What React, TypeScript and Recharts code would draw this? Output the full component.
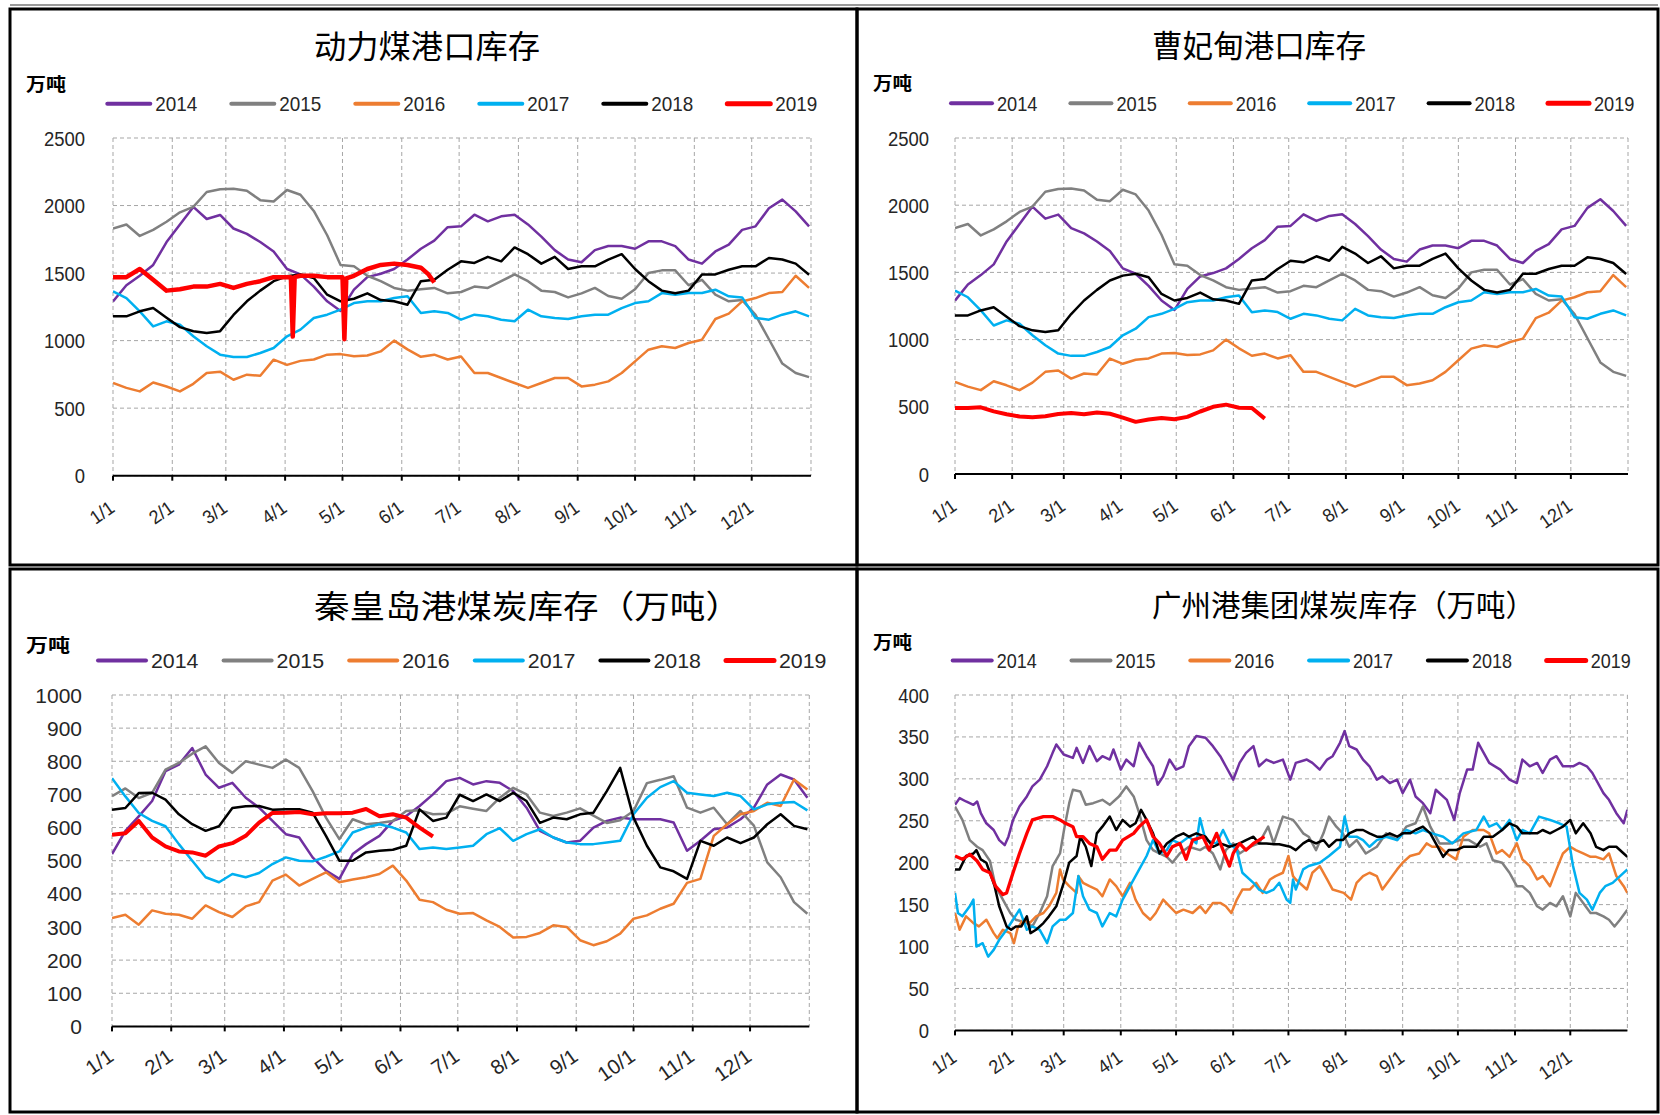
import React from 'react';
import { LineChart, Line, XAxis, YAxis, CartesianGrid } from 'recharts';

// ---------- x categories (day of year) ----------
const DAYS = [0, 7, 14, 21, 28, 35, 42, 49, 56, 63, 70, 77, 84, 91, 98, 105, 112, 119, 126, 133, 140, 147, 154, 161, 168, 175, 182, 189, 196, 203, 210, 217, 224, 231, 238, 245, 252, 259, 266, 273, 280, 287, 294, 301, 308, 315, 322, 329, 336, 343, 350, 357, 364];
const DAYS_2019 = [0, 7, 14, 21, 28, 35, 42, 49, 56, 63, 70, 77, 84, 91, 98, 105, 112, 119, 126, 133, 140, 147, 154, 161, 168];
const DAYS_DL_2019 = [0, 7, 14, 21, 28, 35, 42, 49, 56, 63, 70, 77, 84, 91, 93, 94, 95, 98, 105, 112, 119, 120, 121, 122, 126, 133, 140, 147, 154, 161, 165, 168];
const MONTH_DAYS = [0, 31, 59, 90, 120, 151, 181, 212, 243, 273, 304, 334];
const MONTH_LABELS = ['1/1', '2/1', '3/1', '4/1', '5/1', '6/1', '7/1', '8/1', '9/1', '10/1', '11/1', '12/1'];
const YEARS = ['2014', '2015', '2016', '2017', '2018', '2019'];

// ---------- 动力煤港口库存 (2014-2018 curves also shown in 曹妃甸 chart) ----------
const DL_2014 = [1290, 1410, 1480, 1560, 1730, 1860, 1990, 1900, 1930, 1830, 1790, 1730, 1660, 1530, 1490, 1400, 1291, 1220, 1377, 1470, 1495, 1530, 1600, 1680,
  1740, 1840, 1846, 1932, 1883, 1920, 1932, 1860, 1770, 1670, 1600, 1580, 1670, 1700, 1700, 1680, 1735, 1735, 1700, 1600, 1570, 1660, 1710, 1820, 1846, 1980, 2044, 1957, 1846];
const DL_2015 = [1830, 1860, 1775, 1820, 1880, 1950, 1990, 2100, 2120, 2125, 2110, 2040, 2030, 2115, 2080, 1960, 1780, 1560, 1550, 1480, 1440, 1390, 1370, 1380,
  1390, 1350, 1360, 1400, 1390, 1440, 1490, 1440, 1370, 1360, 1320, 1350, 1390, 1330, 1310, 1380, 1500, 1520, 1520, 1410, 1450, 1340, 1291, 1300, 1190, 1010, 830, 760, 730];
const DL_2016 = [686, 650, 624, 690, 660, 624, 680, 760, 770, 710, 748, 740, 859, 820, 850, 860, 896, 900, 885, 890, 920, 1000, 935, 880,
  896, 860, 883, 760, 760, 723, 686, 650, 686, 723, 723, 661, 674, 698, 760, 846, 933, 958, 945, 982, 1007, 1160, 1200, 1290, 1315, 1352, 1360, 1480, 1390];
const DL_2017 = [1365, 1315, 1217, 1105, 1143, 1118, 1032, 958, 896, 879, 879, 908, 945, 1032, 1081, 1167, 1192, 1229, 1278, 1291, 1291, 1315, 1328, 1204,
  1217, 1205, 1155, 1192, 1180, 1155, 1143, 1229, 1180, 1167, 1160, 1180, 1192, 1192, 1241, 1278, 1291, 1352, 1340, 1352, 1352, 1377, 1328, 1320, 1167, 1155, 1192, 1217, 1180];
const DL_2018 = [1180, 1180, 1217, 1241, 1170, 1100, 1069, 1056, 1070, 1190, 1291, 1370, 1440, 1476, 1490, 1464, 1340, 1291, 1310, 1350, 1300, 1291, 1266, 1440,
  1451, 1525, 1587, 1575, 1620, 1587, 1690, 1640, 1570, 1620, 1530, 1550, 1550, 1600, 1640, 1530, 1440, 1370, 1350, 1370, 1490, 1490, 1525, 1550, 1550, 1612, 1600, 1570, 1488];
const DL_2019 = [1470, 1470, 1530, 1450, 1370, 1380, 1400, 1400, 1420, 1390, 1420, 1440, 1470, 1470, 1470, 1030, 1470, 1480, 1480, 1470, 1470, 1470, 1010, 1460,
  1480, 1530, 1560, 1570, 1560, 1540, 1490, 1430];

// ---------- 曹妃甸港口库存 2019 ----------
const CFD_2019 = [491, 491, 496, 466, 445, 428, 422, 430, 446, 453, 445, 458, 448, 420, 388, 405, 417, 407, 425, 465, 500, 516, 493, 491, 412];

// ---------- 秦皇岛港煤炭库存 ----------
const QHD_2014 = [520, 590, 634, 680, 770, 790, 840, 760, 720, 735, 690, 660, 620, 580, 570, 510, 470, 445, 520, 550, 575, 620, 635, 665, 700, 740, 750,
  730, 740, 735, 710, 660, 590, 570, 555, 560, 600, 620, 630, 625, 625, 625, 615, 530, 560, 595, 600, 625, 660, 730, 760, 745, 690];
const QHD_2015 = [695, 718, 689, 705, 775, 795, 823, 845, 795, 765, 800, 790, 780, 805, 780, 710, 630, 565, 625, 610, 614, 620, 650, 652, 640, 642, 664,
  657, 650, 690, 720, 700, 645, 635, 645, 658, 636, 614, 622, 650, 734, 744, 755, 660, 645, 660, 610, 650, 606, 495, 450, 375, 340];
const QHD_2016 = [327, 337, 307, 350, 340, 337, 325, 365, 345, 330, 362, 375, 440, 458, 425, 445, 465, 435, 443, 450, 460, 485, 440, 382, 375, 352, 340,
  342, 320, 300, 268, 270, 282, 305, 300, 260, 245, 257, 280, 325, 335, 355, 370, 433, 445, 575, 610, 640, 650, 675, 665, 745, 715];
const QHD_2017 = [749, 694, 644, 620, 604, 550, 500, 450, 435, 460, 450, 463, 490, 510, 500, 498, 512, 528, 585, 600, 610, 600, 585, 535, 540, 535, 540,
  545, 580, 598, 560, 580, 595, 570, 555, 550, 550, 555, 560, 640, 690, 722, 740, 705, 700, 695, 705, 695, 655, 670, 675, 677, 652];
const QHD_2018 = [654, 659, 704, 705, 684, 640, 610, 590, 604, 659, 664, 665, 654, 655, 655, 645, 575, 500, 500, 525, 530, 533, 545, 655, 620, 630, 699,
  680, 700, 680, 705, 680, 614, 630, 625, 640, 645, 710, 780, 630, 545, 480, 468, 445, 560, 545, 570, 553, 570, 610, 640, 605, 595];
const QHD_2019 = [578, 583, 620, 570, 543, 528, 525, 515, 543, 553, 575, 615, 644, 645, 647, 640, 643, 643, 645, 656, 634, 640, 630, 600, 573];

// ---------- 广州港集团煤炭库存 ([day, value] readings) ----------
const GZ_2014: [number, number][] = [[0, 269], [2.5, 277], [6, 273], [10, 269], [12, 273], [14, 259], [17, 247], [21, 239], [24, 227], [27, 221], [29, 231], [31.5, 251], [35, 267], [39, 279], [42, 291], [46, 299], [50, 315], [53, 331], [55, 341], [59, 329], [64, 325], [66, 337], [69.5, 319], [73, 339], [77, 321], [80, 327], [84, 323], [86, 335], [90, 311], [93, 323], [97, 315], [100, 343], [104, 327], [107.5, 315], [110, 293], [113, 303], [116.5, 323], [120, 311], [124, 315], [127, 339], [131, 351], [136, 349], [140, 339], [144, 327], [147, 315], [151, 299], [154.5, 319], [158, 331], [162, 339], [165, 315], [169, 323], [173, 319], [178, 323], [182, 299],
  [185, 319], [191, 323], [194, 319], [198, 311], [202, 323], [205, 327], [209, 343], [211.5, 357], [214, 339], [218, 335], [221.5, 323], [225, 315], [229, 299], [232, 303], [236, 295], [240, 299], [243, 283], [247, 299], [250, 279], [254, 271], [258, 259], [261, 287], [267, 275], [271, 251], [274, 283], [278, 311], [281, 311], [284, 343], [287, 331], [290, 319], [296, 311], [301, 299], [305, 295], [308, 323], [312, 315], [316, 319], [319, 307], [323, 323], [326.5, 327], [330, 315], [335.5, 315], [339, 319], [343, 315], [346, 307], [352, 283], [355, 275], [359, 259], [363, 247], [365, 263]];
const GZ_2015: [number, number][] = [[0, 267], [4, 251], [8, 227], [12, 219], [15, 215], [19, 202], [22, 172], [26, 156], [30, 140], [33, 132], [39, 128], [42, 124], [46, 140], [50, 160], [53, 196], [57, 211], [59.5, 243], [62, 271], [64, 287], [68, 285], [71, 269], [75, 271], [80, 275], [84, 269], [89, 279], [93, 291], [97, 279], [100, 259], [104, 227], [107.5, 215], [111, 211], [115, 207], [118, 200], [122, 211], [127, 219], [133, 215], [136, 219], [140, 211], [144, 192], [147, 215], [151, 223], [154.5, 211], [160, 219], [165, 223], [170, 243], [173, 223], [178, 255], [183.5, 251],
  [185, 247], [189, 235], [192, 231], [196, 215], [200, 235], [203, 255], [207, 243], [210.5, 235], [214, 219], [218, 227], [223, 211], [229, 219], [234, 235], [240, 227], [245, 243], [250, 247], [254, 267], [258, 243], [263, 223], [269, 223], [274, 227], [279, 227], [285, 219], [288.5, 223], [292, 203], [297, 200], [301, 188], [305, 172], [308, 172], [312, 164], [316, 148], [319, 144], [323, 152], [326.5, 148], [330, 160], [334, 136], [337, 164], [341, 152], [345, 140], [348, 140], [352, 136], [355, 132], [358, 124], [361, 132], [365, 144]];
const GZ_2016: [number, number][] = [[0, 140], [2.5, 120], [6, 136], [10, 128], [13, 124], [17, 132], [21, 116], [23, 110], [26, 120], [30, 116], [32, 104], [34, 122], [37, 132], [40.5, 128], [44, 136], [48, 140], [51, 148], [55, 164], [57, 192], [58.6, 180], [62, 172], [66, 164], [67, 184], [69.5, 176], [73, 172], [77, 168], [80, 160], [84, 180], [87.5, 172], [91, 160], [95, 176], [98, 156], [102, 140], [106, 132], [109, 140], [113, 156], [116.5, 148], [120, 140], [124, 144], [129, 140], [133, 148], [136, 140], [140, 152], [144, 152], [147, 148], [150, 140], [153, 156], [156, 168], [160, 168], [163.5, 176], [167, 164], [171, 180], [174, 184], [178, 188], [181, 208], [183.5, 184],
  [185, 180], [191, 168], [194, 188], [198, 196], [202, 180], [205, 168], [211, 164], [215, 156], [218, 176], [221.5, 184], [225, 188], [229, 184], [232, 168], [236, 180], [240, 192], [243, 200], [247, 208], [252, 211], [256, 223], [259, 219], [263, 219], [267, 211], [272, 204], [276, 231], [281, 239], [287, 239], [290, 235], [294, 211], [297, 215], [301, 207], [305, 223], [308, 204], [312, 196], [316, 180], [319, 184], [323, 172], [326.5, 192], [330, 211], [334, 219], [337, 215], [341, 211], [345, 207], [348, 207], [352, 204], [355, 211], [359, 184], [363, 172], [365, 164]];
const GZ_2017: [number, number][] = [[0, 164], [1.6, 140], [4, 136], [8, 148], [10, 156], [11.6, 100], [15, 104], [18, 88], [21, 96], [24, 108], [28, 120], [31.5, 132], [35, 144], [39, 120], [42, 124], [46, 120], [50, 104], [53, 124], [57, 132], [60, 132], [64, 140], [67, 184], [69.5, 160], [73, 144], [77, 140], [80, 124], [84, 140], [87.5, 136], [91, 156], [95, 172], [100, 192], [104, 208], [107.5, 227], [111, 211], [115, 215], [118, 227], [122, 223], [127, 231], [131, 223], [133, 253], [136, 227], [142, 223], [145.5, 239], [149, 223], [153, 215], [156, 188], [162, 176], [165, 168], [169, 164], [173, 168], [176, 176], [180, 156], [182, 152], [183.5, 180],
  [185, 168], [189, 192], [192, 196], [198, 200], [203, 208], [209, 219], [211.5, 255], [214, 231], [218, 231], [221.5, 227], [225, 219], [229, 227], [234, 231], [240, 227], [245, 239], [250, 235], [254, 239], [259, 235], [265, 231], [270, 223], [276, 235], [283, 239], [287, 255], [290, 243], [294, 247], [297, 239], [301, 251], [305, 227], [308, 239], [312, 235], [317, 255], [323, 251], [328, 247], [332, 243], [335.5, 196], [339, 164], [343, 156], [346, 144], [350, 164], [353, 172], [357, 176], [361, 184], [365, 192]];
const GZ_2018: [number, number][] = [[0, 192], [2.5, 192], [6, 208], [10, 211], [11.6, 215], [14, 204], [17, 200], [19, 188], [21.5, 172], [24, 148], [28, 124], [30.5, 120], [33, 124], [36, 124], [39, 136], [41, 116], [44, 120], [48, 128], [51, 136], [55, 148], [59, 176], [62, 200], [66, 208], [68, 231], [71, 219], [74, 196], [77, 235], [80, 243], [84, 255], [87.5, 239], [91, 251], [95, 243], [98, 247], [101, 263], [104, 251], [107.5, 235], [111, 211], [115, 223], [120, 231], [124, 235], [127, 231], [131, 235], [136, 231], [140, 219], [144, 223], [149, 219], [154.5, 223], [158, 227], [162, 231], [165, 223], [169, 223], [173, 222], [176, 222], [182, 219], [185, 215],
  [189, 223], [192, 227], [196, 223], [200, 227], [203, 219], [207, 227], [210.5, 227], [214, 235], [218, 239], [221.5, 239], [225, 235], [229, 231], [232, 231], [236, 235], [240, 231], [243, 235], [247, 235], [250, 239], [254, 243], [258, 235], [261, 223], [265, 207], [268, 215], [272, 215], [276, 219], [283, 219], [287, 231], [292, 231], [297, 239], [301, 247], [305, 243], [308, 235], [316, 235], [319, 239], [323, 235], [326.5, 239], [330, 243], [334, 251], [337, 235], [341, 247], [345, 235], [348, 219], [352, 215], [355, 219], [359, 219], [363, 211], [365, 207]];
const GZ_2019: [number, number][] = [[0, 208], [4, 204], [8, 210], [12, 202], [15, 192], [19, 188], [22, 172], [26, 162], [28, 164], [31.5, 188], [35, 211], [39, 235], [42, 251], [48, 255], [53, 255], [57, 251], [60, 247], [64, 243], [66, 231], [69.5, 231], [73, 223], [77, 219], [80, 204], [84, 215], [87.5, 215], [91, 227], [97, 235], [100, 243], [104, 251], [107.5, 231], [111, 223], [115, 208], [118, 219], [122, 223], [125.5, 204], [129, 227], [134.6, 231], [138, 215], [142, 235], [145.5, 215], [149, 196], [151, 211], [154.5, 223], [158, 215], [162, 223], [165, 227], [168, 231]];

// ---------- y ticks ----------
const DL_Y_TICKS = [0, 500, 1000, 1500, 2000, 2500];
const QHD_Y_TICKS = [0, 100, 200, 300, 400, 500, 600, 700, 800, 900, 1000];
const GZ_Y_TICKS = [0, 50, 100, 150, 200, 250, 300, 350, 400];

// ---------- styles ----------
const LINE_COLORS = ['#7030A0', '#808080', '#ED7D31', '#00B0F0', '#000000', '#FF0000'];
const NUM_FONT = '"Liberation Sans", Arial, sans-serif';
const CJK_FONT = '"Noto Sans CJK SC", "Noto Sans", sans-serif';
const TEXT_COLOR = '#262626';

type Series = { days?: number[]; vals?: number[]; pairs?: [number, number][] };
const toPoints = (s: Series) =>
  s.pairs ? s.pairs.map(([d, v]) => ({ d, v })) : (s.days as number[]).map((d, i) => ({ d, v: (s.vals as number[])[i] }));

const PANELS = [
  {
    key: 'dl', title: '动力煤港口库存', titleX: 427, titleY: 57.5, titleSize: 32, titleLen: 226,
    unitX: 26, unitY: 90.5, unitLen: 40,
    legX: 105.3, legStep: 124, legLine: 47, legY: 103.8, legTextLen: 42,
    plot: { x0: 112.7, x1: 810.7, y0: 138.3, y1: 476 }, yMax: 2500, yTicks: DL_Y_TICKS, yGap: 28, ySx: 0.88,
    xDy: 30, xFont: 19, xSx: 0.95, redW: 4.5,
    series: [
      { days: DAYS, vals: DL_2014 }, { days: DAYS, vals: DL_2015 }, { days: DAYS, vals: DL_2016 },
      { days: DAYS, vals: DL_2017 }, { days: DAYS, vals: DL_2018 }, { days: DAYS_DL_2019, vals: DL_2019 },
    ] as Series[],
  },
  {
    key: 'cfd', title: '曹妃甸港口库存', titleX: 1259, titleY: 56.5, titleSize: 31, titleLen: 214,
    unitX: 873, unitY: 89.5, unitLen: 39,
    legX: 949, legStep: 119.4, legLine: 45, legY: 103.3, legTextLen: 40.5,
    plot: { x0: 955.3, x1: 1628.3, y0: 138.3, y1: 474.3 }, yMax: 2500, yTicks: DL_Y_TICKS, yGap: 26, ySx: 0.88,
    xDy: 30, xFont: 19, xSx: 0.95, redW: 4,
    series: [
      { days: DAYS, vals: DL_2014 }, { days: DAYS, vals: DL_2015 }, { days: DAYS, vals: DL_2016 },
      { days: DAYS, vals: DL_2017 }, { days: DAYS, vals: DL_2018 }, { days: DAYS_2019, vals: CFD_2019 },
    ] as Series[],
  },
  {
    key: 'qhd', title: '秦皇岛港煤炭库存（万吨）', titleX: 527.5, titleY: 618, titleSize: 32, titleLen: 427,
    unitX: 26, unitY: 651.5, unitLen: 44,
    legX: 96, legStep: 125.6, legLine: 52, legY: 660.5, legTextLen: 47.5,
    plot: { x0: 111.7, x1: 809, y0: 695.3, y1: 1026.7 }, yMax: 1000, yTicks: QHD_Y_TICKS, yGap: 30, ySx: 1.0,
    xDy: 28, xFont: 20.5, xSx: 1.0, redW: 4,
    series: [
      { days: DAYS, vals: QHD_2014 }, { days: DAYS, vals: QHD_2015 }, { days: DAYS, vals: QHD_2016 },
      { days: DAYS, vals: QHD_2017 }, { days: DAYS, vals: QHD_2018 }, { days: DAYS_2019, vals: QHD_2019 },
    ] as Series[],
  },
  {
    key: 'gz', title: '广州港集团煤炭库存（万吨）', titleX: 1343.5, titleY: 615.5, titleSize: 30, titleLen: 383,
    unitX: 873, unitY: 648.5, unitLen: 39,
    legX: 950.7, legStep: 118.8, legLine: 43, legY: 660.5, legTextLen: 40,
    plot: { x0: 955.3, x1: 1627.7, y0: 695.3, y1: 1030.7 }, yMax: 400, yTicks: GZ_Y_TICKS, yGap: 26, ySx: 0.88,
    xDy: 25, xFont: 19, xSx: 0.95, redW: 3.3,
    series: [
      { pairs: GZ_2014 }, { pairs: GZ_2015 }, { pairs: GZ_2016 },
      { pairs: GZ_2017 }, { pairs: GZ_2018 }, { pairs: GZ_2019 },
    ] as Series[],
  },
];

type PanelCfg = typeof PANELS[number];

function makeXTick(dy: number, fs: number, sx: number) {
  return (props: any) => {
    const { x, y, payload } = props;
    const idx = MONTH_DAYS.indexOf(payload.value);
    return (
      <text
        transform={`translate(${x + 3},${y + dy}) rotate(-35) scale(${sx},1)`}
        textAnchor="end"
        fontSize={fs}
        fontFamily={NUM_FONT}
        fill={TEXT_COLOR}
      >
        {idx >= 0 ? MONTH_LABELS[idx] : ''}
      </text>
    );
  };
}

function makeYTick(sx: number) {
  return (props: any) => {
    const { x, y, payload } = props;
    return (
      <text
        transform={`translate(${x},${y}) scale(${sx},1)`}
        textAnchor="end"
        dy="0.36em"
        fontSize={21}
        fontFamily={NUM_FONT}
        fill={TEXT_COLOR}
      >
        {payload.value}
      </text>
    );
  };
}

function PanelChart({ cfg }: { cfg: PanelCfg }) {
  const { x0, x1, y0, y1 } = cfg.plot;
  const left = x0 - 100;
  const top = y0 - 20;
  const width = x1 - x0 + 120;
  const height = y1 - y0 + 80;
  return (
    <div style={{ position: 'absolute', left, top, width, height }}>
      <LineChart width={width} height={height} margin={{ top: 20, right: 20, bottom: 0, left: 40 }}>
        <CartesianGrid stroke="#A6A6A6" strokeDasharray="4 3" strokeWidth={1} />
        <XAxis
          dataKey="d"
          type="number"
          domain={[0, 365]}
          ticks={MONTH_DAYS}
          interval={0}
          allowDataOverflow
          height={60}
          axisLine={{ stroke: '#000', strokeWidth: 2 }}
          tickLine={{ stroke: '#000', strokeWidth: 2 }}
          tickSize={5}
          tickMargin={0}
          tick={makeXTick(cfg.xDy, cfg.xFont, cfg.xSx)}
        />
        <YAxis
          type="number"
          domain={[0, cfg.yMax]}
          ticks={cfg.yTicks}
          interval={0}
          allowDataOverflow
          width={60}
          axisLine={false}
          tickLine={false}
          tickSize={0}
          tickMargin={cfg.yGap}
          tick={makeYTick(cfg.ySx)}
        />
        {cfg.series.map((s, i) => (
          <Line
            key={YEARS[i]}
            name={YEARS[i]}
            data={toPoints(s)}
            dataKey="v"
            type="linear"
            stroke={LINE_COLORS[i]}
            strokeWidth={i === 5 ? cfg.redW : 2.5}
            strokeLinejoin="round"
            dot={false}
            activeDot={false}
            isAnimationActive={false}
          />
        ))}
      </LineChart>
    </div>
  );
}

function Overlay() {
  return (
    <svg width={1660} height={1115} style={{ position: 'absolute', left: 0, top: 0, pointerEvents: 'none' }}>
      <line x1={10} x2={1658} y1={5} y2={5} stroke="#9A9A9A" strokeWidth={2} />
      <rect x={10} y={9} width={847} height={556} fill="none" stroke="#000" strokeWidth={3} />
      <rect x={857} y={9} width={801} height={556} fill="none" stroke="#000" strokeWidth={3} />
      <rect x={10} y={569} width={847} height={543} fill="none" stroke="#000" strokeWidth={3} />
      <rect x={857} y={569} width={801} height={543} fill="none" stroke="#000" strokeWidth={3} />
      {PANELS.map((p) => (
        <g key={p.key}>
          <text
            x={p.titleX}
            y={p.titleY}
            textAnchor="middle"
            fontSize={p.titleSize}
            fontFamily={CJK_FONT}
            fill="#000"
            textLength={p.titleLen}
            lengthAdjust="spacingAndGlyphs"
          >
            {p.title}
          </text>
          <text
            x={p.unitX}
            y={p.unitY}
            fontSize={18}
            fontWeight="bold"
            fontFamily={CJK_FONT}
            fill="#000"
            textLength={p.unitLen}
            lengthAdjust="spacingAndGlyphs"
          >
            万吨
          </text>
          {YEARS.map((yr, i) => {
            const lx = p.legX + i * p.legStep;
            return (
              <g key={yr}>
                <line
                  x1={lx + 2}
                  x2={lx + p.legLine - 2}
                  y1={p.legY}
                  y2={p.legY}
                  stroke={LINE_COLORS[i]}
                  strokeWidth={i === 5 ? 5 : 4}
                  strokeLinecap="round"
                />
                <text
                  x={lx + p.legLine + 3}
                  y={p.legY}
                  dy="0.36em"
                  fontSize={21}
                  fontFamily={NUM_FONT}
                  fill={TEXT_COLOR}
                  textLength={p.legTextLen}
                  lengthAdjust="spacingAndGlyphs"
                >
                  {yr}
                </text>
              </g>
            );
          })}
        </g>
      ))}
    </svg>
  );
}

export default function App() {
  return (
    <div style={{ position: 'absolute', left: 0, top: 0, width: 1660, height: 1115, background: '#fff', overflow: 'hidden' }}>
      {PANELS.map((p) => (
        <PanelChart key={p.key} cfg={p} />
      ))}
      <Overlay />
    </div>
  );
}
